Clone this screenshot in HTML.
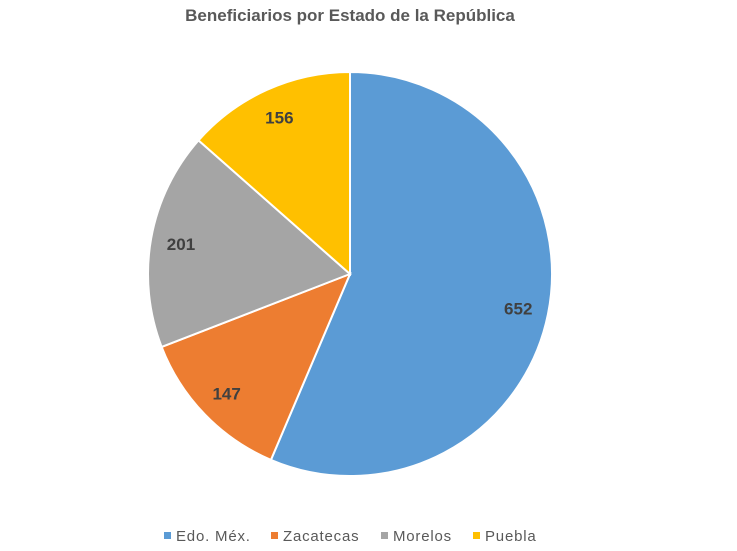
<!DOCTYPE html>
<html><head><meta charset="utf-8"><style>
html,body{margin:0;padding:0;background:#fff;}
svg{display:block;font-family:"Liberation Sans",sans-serif;}
</style></head><body>
<svg id="chart" width="737" height="551" viewBox="0 0 737 551">
<rect width="737" height="551" fill="#fff"/>
<text x="350" y="21" text-anchor="middle" font-size="17" font-weight="bold" fill="#595959">Beneficiarios por Estado de la República</text>
<g id="slices"></g>
<g id="labels"></g>
<g id="legend"></g>
</svg>
<script>
const categories = ["Edo. Méx.", "Zacatecas", "Morelos", "Puebla"];
const values = [652, 147, 201, 156];
const colors = ["#5b9bd5", "#ed7d31", "#a5a5a5", "#ffc000"];
const legendX = [164, 271, 381, 473];

const cx = 350, cy = 274, R = 202;
const ns = "http://www.w3.org/2000/svg";
const total = values.reduce((a, b) => a + b, 0);
function pt(angle, r) { return [cx + Math.sin(angle) * r, cy - Math.cos(angle) * r]; }
const gS = document.getElementById("slices"), gL = document.getElementById("labels"), gLg = document.getElementById("legend");
let a0 = 0;
values.forEach((v, i) => {
  const a1 = a0 + v / total * Math.PI * 2;
  const [x0, y0] = pt(a0, R), [x1, y1] = pt(a1, R);
  const large = (a1 - a0) > Math.PI ? 1 : 0;
  const p = document.createElementNS(ns, "path");
  p.setAttribute("d", `M${cx},${cy} L${x0},${y0} A${R},${R} 0 ${large} 1 ${x1},${y1} Z`);
  p.setAttribute("fill", colors[i]);
  p.setAttribute("stroke", "#fff");
  p.setAttribute("stroke-width", "2");
  
  
  gS.appendChild(p);
  const [lx, ly] = pt((a0 + a1) / 2, R * 0.85);
  const t = document.createElementNS(ns, "text");
  t.setAttribute("x", lx); t.setAttribute("y", ly + 6);
  t.setAttribute("text-anchor", "middle");
  t.setAttribute("font-size", "17"); t.setAttribute("font-weight", "bold");
  t.setAttribute("fill", "#404040");
  t.textContent = v;
  
  
  gL.appendChild(t);
  const r = document.createElementNS(ns, "rect");
  r.setAttribute("x", legendX[i]); r.setAttribute("y", 532);
  r.setAttribute("width", 7); r.setAttribute("height", 7);
  r.setAttribute("fill", colors[i]);
  
  
  gLg.appendChild(r);
  const lt = document.createElementNS(ns, "text");
  lt.setAttribute("x", legendX[i] + 12); lt.setAttribute("y", 541);
  lt.setAttribute("font-size", "15"); lt.setAttribute("fill", "#595959");
  lt.setAttribute("letter-spacing", "0.8");
  lt.textContent = categories[i];
  
  
  gLg.appendChild(lt);
  a0 = a1;
});
</script>
</body></html>
